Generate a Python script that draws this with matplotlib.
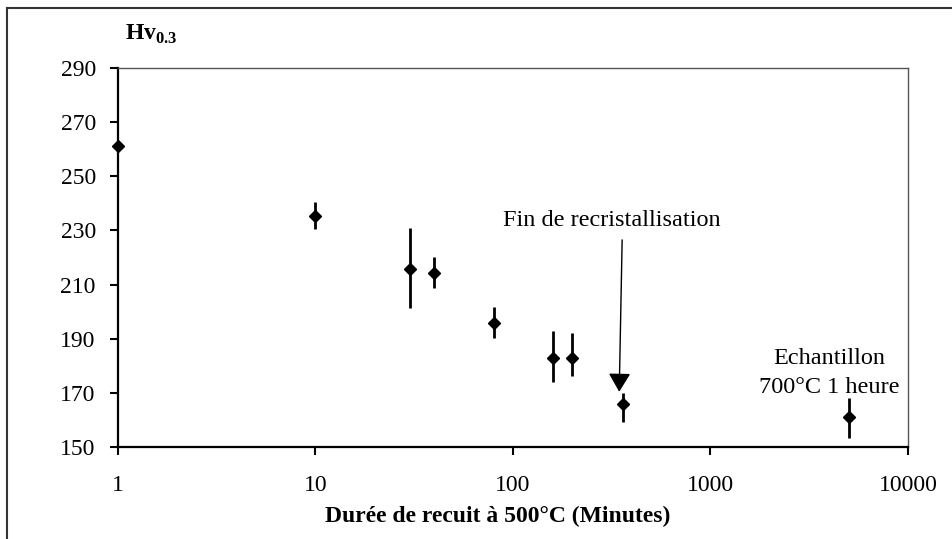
import numpy as np
import matplotlib.pyplot as plt
from matplotlib.lines import Line2D
from matplotlib.ticker import FixedLocator, FixedFormatter, NullLocator

plt.rcParams['font.family'] = ['Liberation Serif', 'DejaVu Serif']
plt.rcParams['mathtext.fontset'] = 'custom'
plt.rcParams['mathtext.rm'] = 'Liberation Serif'
plt.rcParams['mathtext.bf'] = 'Liberation Serif:bold'

# data
durees = [1, 10, 30, 40, 80, 160, 200, 360, 5000]
hv = [261.2, 235.5, 215.6, 214.4, 195.9, 182.7, 182.7, 165.8, 161.0]
err_bas = [0.0, 5.1, 14.4, 5.8, 5.8, 8.6, 6.5, 6.5, 7.8]
err_haut = [0.0, 4.9, 15.2, 5.7, 5.7, 10.1, 9.3, 4.0, 7.0]

xticks = [1, 10, 100, 1000, 10000]
xlabels = ['1', '10', '100', '1000', '10000']
yticks = [150, 170, 190, 210, 230, 250, 270, 290]

fig = plt.figure(figsize=(9.53, 5.39), dpi=100)
ax = fig.add_axes([118/953, 92/539, 790/953, 379/539])

ax.errorbar(durees, hv, yerr=[err_bas, err_haut], fmt='D', color='black',
            markersize=6, elinewidth=2, capsize=0, zorder=3, clip_on=False)

ax.set_xscale('log')
ax.set_xlim(1, 10000)
ax.set_ylim(150, 290)
ax.xaxis.set_major_locator(FixedLocator(xticks))
ax.xaxis.set_major_formatter(FixedFormatter(xlabels))
ax.xaxis.set_minor_locator(NullLocator())
ax.set_yticks(yticks)
ax.tick_params(axis='both', direction='out', length=6, width=1.5,
               labelsize=17, color='black')
ax.tick_params(axis='x', pad=14)
ax.tick_params(axis='y', pad=10)

for s in ['left', 'bottom']:
    ax.spines[s].set_linewidth(1.6)
    ax.spines[s].set_color('black')
for s in ['top', 'right']:
    ax.spines[s].set_linewidth(1.0)
    ax.spines[s].set_color('#555555')

ax.set_xlabel('Durée de recuit à 500°C (Minutes)', fontsize=17,
              fontweight='bold', va='center')
ax.xaxis.set_label_coords(0.48, -(516 - 447) / 379)

fig.text(125/953, 1 - 34/539, r'$\mathbf{Hv}_{\mathbf{0.3}}$', fontsize=17,
         va='center', ha='left')

# annotations
ax.annotate('', xy=(345, 170.4), xytext=(357, 226.5),
            arrowprops=dict(arrowstyle='-|>,head_length=1.15,head_width=0.68',
                            mutation_scale=10, lw=1, color='black',
                            shrinkA=0, shrinkB=0))
ax.text(318, 233.6, 'Fin de recristallisation', fontsize=17.5,
        ha='center', va='center')
ax.text(4000, 177.5, 'Echantillon\n700°C 1 heure', fontsize=17.5,
        ha='center', va='center', linespacing=1.5)

# outer frame of the picture: only left and top edges are visible
fig.add_artist(Line2D([7/953, 7/953], [0, 1 - 8/539], transform=fig.transFigure,
                      color='#333333', lw=1.5))
fig.add_artist(Line2D([7/953, 1], [1 - 8/539, 1 - 8/539], transform=fig.transFigure,
                      color='#333333', lw=1.5))

fig.savefig('out.png', dpi=100)
